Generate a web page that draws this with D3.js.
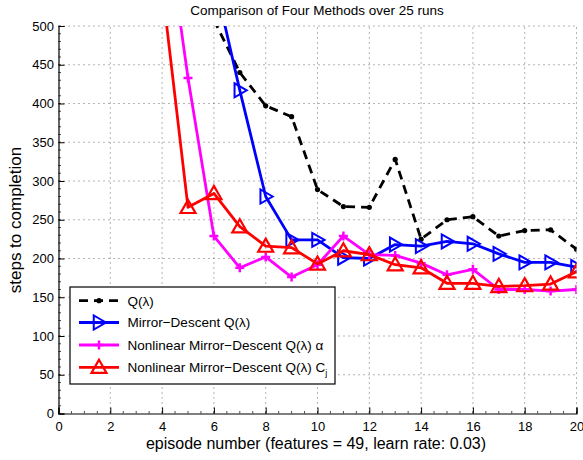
<!DOCTYPE html>
<html>
<head>
<meta charset="utf-8">
<script src="https://cdn.jsdelivr.net/npm/d3@7"></script>
<style>
  html, body { margin: 0; padding: 0; background: #fff; }
  svg { display: block; font-family: "Liberation Sans", Arial, Helvetica, sans-serif; }
</style>
</head>
<body>
<svg id="chart" width="583" height="460"></svg>
<script>
// ---- data ----
const title = "Comparison of Four Methods over 25 runs";
const xLabel = "episode number (features = 49, learn rate: 0.03)";
const yLabel = "steps to completion";
const episodes = [4, 5, 6, 7, 8, 9, 10, 11, 12, 13, 14, 15, 16, 17, 18, 19, 20];
const qLambda      = [null, null, 508, 440, 397, 383, 289, 267, 266, 328, 225, 250, 254, 229, 236, 237, 212];
const mirrorDesc   = [null, null, 563, 417, 280, 224, 224, 201, 200, 218, 216, 222, 219, 206, 195, 195, 189];
const nlMirrorA    = [673, 433, 229, 188, 202, 176, 192, 229, 205, 204, 194, 179, 186, 160, 160, 158, 160];
const nlMirrorC    = [551, 266, 284, 241, 216, 214, 193, 210, 205, 192, 188, 168, 168, 164, 165, 167, 183];
const seriesNames  = ["Q(λ)", "Mirror−Descent Q(λ)", "Nonlinear Mirror−Descent Q(λ) α", "Nonlinear Mirror−Descent Q(λ) C"];
const xTicks = [0, 2, 4, 6, 8, 10, 12, 14, 16, 18, 20];
const yTicks = [0, 50, 100, 150, 200, 250, 300, 350, 400, 450, 500];

// ---- layout ----
const svg = d3.select("#chart");
const L = 58.5, R = 576.5, T = 26, B = 413.5;
const x = d3.scaleLinear().domain([0, 20]).range([L, R]);
const y = d3.scaleLinear().domain([0, 500]).range([B, T]);

svg.append("defs").append("clipPath").attr("id", "clip")
  .append("rect").attr("x", L).attr("y", T).attr("width", R - L).attr("height", B - T);

// grid
const grid = svg.append("g").attr("stroke", "#444").attr("stroke-width", 0.8)
  .attr("stroke-dasharray", "1,4");
xTicks.forEach(t => { if (t > 0) grid.append("line").attr("x1", x(t)).attr("x2", x(t)).attr("y1", B).attr("y2", T); });
yTicks.forEach(t => { if (t > 0) grid.append("line").attr("x1", L).attr("x2", R).attr("y1", y(t)).attr("y2", y(t)); });

// axes
const xAxis = d3.axisBottom(x).tickValues(xTicks).tickSize(-6).tickPadding(8).tickFormat(d3.format("d"));
const yAxis = d3.axisLeft(y).tickValues(yTicks).tickSize(-6).tickPadding(5).tickFormat(d3.format("d"));
const gx = svg.append("g").attr("transform", `translate(0,${B})`).call(xAxis);
const gy = svg.append("g").attr("transform", `translate(${L},0)`).call(yAxis);
[gx, gy].forEach(g => {
  g.select(".domain").attr("stroke", "#000").attr("stroke-width", 1.2);
  g.selectAll(".tick line").attr("stroke", "#000").attr("stroke-width", 1);
  g.selectAll(".tick text").attr("fill", "#000").attr("font-size", "13px")
    .attr("font-family", "Liberation Sans, Arial, sans-serif");
});
gy.selectAll(".tick text").attr("x", -4.5);
// minor ticks
const minor = svg.append("g").attr("stroke", "#000").attr("stroke-width", 0.7);
d3.range(0, 20.001, 0.5).forEach(t => minor.append("line").attr("x1", x(t)).attr("x2", x(t)).attr("y1", B).attr("y2", B - 2.5));
d3.range(0, 500.001, 10).forEach(t => minor.append("line").attr("x1", L).attr("x2", L + 2.5).attr("y1", y(t)).attr("y2", y(t)));

// title & labels
svg.append("text").attr("x", 317).attr("y", 15).attr("text-anchor", "middle")
  .attr("font-size", "13.5px").text(title);
svg.append("text").attr("x", 316).attr("y", 449).attr("text-anchor", "middle")
  .attr("font-size", "16px").text(xLabel);
svg.append("text").attr("transform", "translate(21,220) rotate(-90)").attr("text-anchor", "middle")
  .attr("font-size", "17px").text(yLabel);

// markers
function drawMarker(g, type, color, cx, cy) {
  if (type === "dot") {
    g.append("circle").attr("cx", cx).attr("cy", cy).attr("r", 2.6).attr("fill", color);
  } else if (type === "right") {
    const s = 7;
    g.append("path").attr("d", `M${cx + s},${cy} L${cx - s * 0.75},${cy - s} L${cx - s * 0.75},${cy + s} Z`)
      .attr("fill", "none").attr("stroke", color).attr("stroke-width", 2);
  } else if (type === "up") {
    const s = 7.5;
    g.append("path").attr("d", `M${cx},${cy - s} L${cx + s},${cy + s * 0.75} L${cx - s},${cy + s * 0.75} Z`)
      .attr("fill", "none").attr("stroke", color).attr("stroke-width", 2.2);
  } else if (type === "plus") {
    const s = 4.5;
    g.append("path").attr("d", `M${cx - s},${cy} L${cx + s},${cy} M${cx},${cy - s} L${cx},${cy + s}`)
      .attr("stroke", color).attr("stroke-width", 2.5);
  }
}

const series = [
  { name: seriesNames[0], values: qLambda,    color: "#000000", dash: "9,6", marker: "dot" },
  { name: seriesNames[1], values: mirrorDesc, color: "#0000ff", dash: null,  marker: "right" },
  { name: seriesNames[2], values: nlMirrorA,  color: "#ff00ff", dash: null,  marker: "plus" },
  { name: seriesNames[3], values: nlMirrorC,  color: "#ff0000", dash: null,  marker: "up" }
];

const plot = svg.append("g").attr("clip-path", "url(#clip)");
const line = d3.line().defined(d => d[1] !== null).x(d => x(d[0])).y(d => y(d[1]));
series.forEach(s => {
  const pts = episodes.map((e, i) => [e, s.values[i]]);
  plot.append("path").datum(pts).attr("d", line).attr("fill", "none")
    .attr("stroke", s.color).attr("stroke-width", 2.8)
    .attr("stroke-dasharray", s.dash).attr("stroke-linejoin", "round");
  const mg = plot.append("g");
  pts.filter(p => p[1] !== null).forEach(p => drawMarker(mg, s.marker, s.color, x(p[0]), y(p[1])));
});

// legend
const lg = svg.append("g");
lg.append("rect").attr("x", 70).attr("y", 287).attr("width", 265).attr("height", 97)
  .attr("fill", "#fff").attr("stroke", "#000").attr("stroke-width", 1.2);
const rowY = [300.7, 322.5, 345, 367.3];
series.forEach((s, i) => {
  lg.append("line").attr("x1", 79).attr("x2", 119).attr("y1", rowY[i]).attr("y2", rowY[i])
    .attr("stroke", s.color).attr("stroke-width", 2.8).attr("stroke-dasharray", s.dash);
  drawMarker(lg, s.marker, s.color, 99, rowY[i]);
  const t = lg.append("text").attr("x", 127.5).attr("y", rowY[i] + 4.8).attr("font-size", "13.5px");
  if (i === 3) {
    t.append("tspan").text(s.name);
    t.append("tspan").attr("dy", 4).attr("font-size", "9px").text("j");
  } else {
    t.text(s.name);
  }
});
</script>
</body>
</html>
